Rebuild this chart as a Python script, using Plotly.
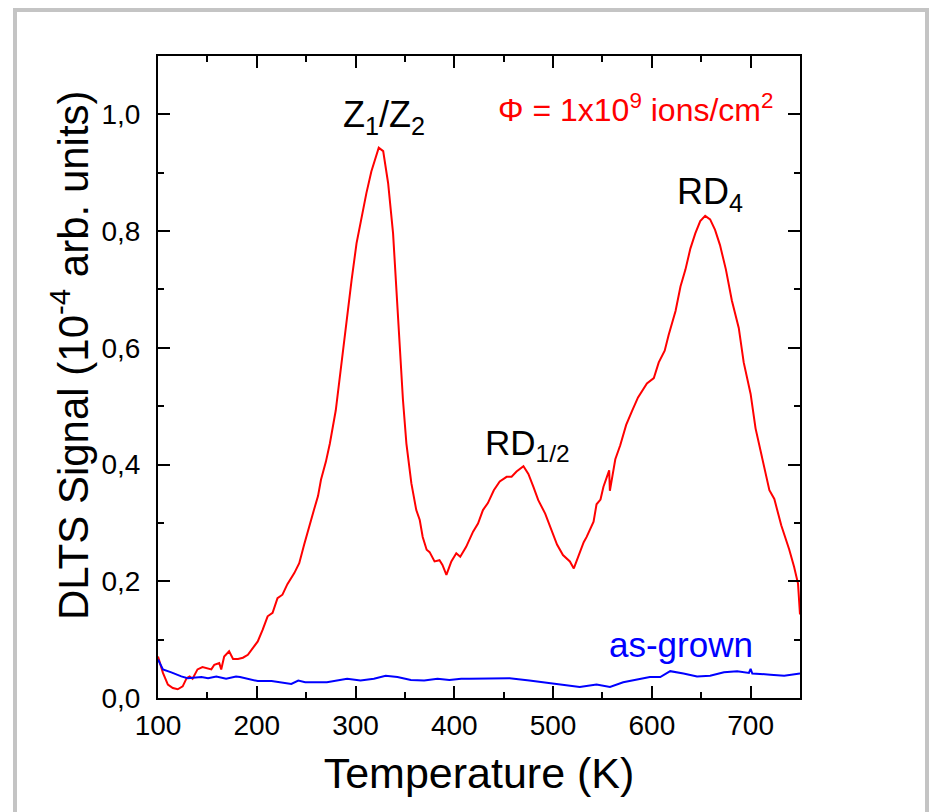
import plotly.graph_objects as go

# ---- data ----
T_irr = [100, 103, 105, 110, 115, 120, 125, 129, 132, 135, 140, 145, 150, 154, 157, 162, 164, 167, 172, 176,
         181, 186, 191, 196, 201, 206, 211, 216, 221, 226, 231, 238, 243, 248, 253, 258, 262, 265, 270, 274,
         280, 286, 291, 296, 301, 306, 311, 316, 319, 323.5, 328, 333, 338, 341, 345, 348, 351.5, 356.5, 361.5, 365,
         368, 372, 375, 380, 385, 388, 392, 397, 402, 406, 412, 419, 424, 429, 434, 440, 446, 453, 458, 463,
         470, 475, 480, 485, 492, 497, 504, 510, 517, 521, 527, 531, 534, 541, 544, 548, 551, 556.8, 557.5, 560,
         563, 568, 574, 580, 586, 595, 602, 607, 613, 617, 624, 629, 634, 639, 644, 649, 654, 659, 664, 669,
         675, 681, 688, 693, 700, 705, 712, 719, 724, 731, 739, 744, 748, 750]
S_irr = [0.071, 0.055, 0.043, 0.023, 0.017, 0.015, 0.020, 0.034, 0.037, 0.033, 0.049, 0.053, 0.051, 0.049, 0.057, 0.060, 0.049, 0.071, 0.080, 0.067,
         0.067, 0.069, 0.074, 0.086, 0.097, 0.117, 0.140, 0.146, 0.171, 0.177, 0.195, 0.214, 0.231, 0.263, 0.291, 0.323, 0.346, 0.374, 0.405, 0.436,
         0.493, 0.579, 0.653, 0.716, 0.779, 0.825, 0.865, 0.902, 0.919, 0.943, 0.937, 0.882, 0.796, 0.705, 0.596, 0.511, 0.436, 0.368, 0.322, 0.305,
         0.276, 0.254, 0.250, 0.234, 0.236, 0.228, 0.211, 0.234, 0.248, 0.242, 0.259, 0.285, 0.299, 0.322, 0.334, 0.356, 0.371, 0.379, 0.379, 0.388,
         0.397, 0.384, 0.362, 0.339, 0.316, 0.294, 0.263, 0.245, 0.234, 0.222, 0.248, 0.267, 0.276, 0.302, 0.332, 0.340, 0.362, 0.390, 0.355, 0.383,
         0.409, 0.433, 0.468, 0.492, 0.515, 0.539, 0.548, 0.575, 0.595, 0.622, 0.663, 0.705, 0.734, 0.770, 0.796, 0.817, 0.826, 0.820, 0.802, 0.776,
         0.734, 0.681, 0.634, 0.575, 0.521, 0.462, 0.409, 0.356, 0.341, 0.296, 0.255, 0.225, 0.196, 0.143]

T_ref = [100, 105, 113.5, 123.6, 130, 144, 150.7, 159, 169, 179, 183, 191, 201, 215, 225, 235, 242, 249, 258, 271,
         291.5, 305, 318.6, 330.5, 342.4, 356, 369.5, 383, 395, 407, 415, 435.6, 456, 476, 493, 510, 527, 544, 557.6, 571,
         584.7, 598, 608.5, 618.6, 632, 645.8, 659, 673, 686.4, 698.3, 700, 701.7, 720, 734, 750]
S_ref = [0.066, 0.049, 0.044, 0.037, 0.034, 0.036, 0.034, 0.037, 0.033, 0.037, 0.036, 0.033, 0.029, 0.029, 0.026, 0.024, 0.030, 0.027, 0.027, 0.027,
         0.033, 0.030, 0.033, 0.038, 0.036, 0.031, 0.030, 0.033, 0.031, 0.033, 0.033, 0.034, 0.034, 0.030, 0.026, 0.023, 0.019, 0.023, 0.019, 0.027,
         0.031, 0.036, 0.036, 0.046, 0.042, 0.037, 0.038, 0.044, 0.046, 0.043, 0.050, 0.042, 0.040, 0.038, 0.042]

x_ticks = [100, 200, 300, 400, 500, 600, 700]
y_ticks = [0.0, 0.2, 0.4, 0.6, 0.8, 1.0]

FONT = "Liberation Sans, Arial, sans-serif"

fig = go.Figure()
fig.add_trace(go.Scatter(x=T_irr, y=S_irr, mode="lines", line=dict(color="#ff0000", width=2), name="irradiated"))
fig.add_trace(go.Scatter(x=T_ref, y=S_ref, mode="lines", line=dict(color="#0000ff", width=2), name="as-grown"))

axis_common = dict(
    showline=True, linecolor="black", linewidth=2, mirror="allticks",
    ticks="inside", ticklen=12, tickwidth=2, tickcolor="black",
    showgrid=False, zeroline=False,
    tickfont=dict(family=FONT, size=28, color="black"),
)

fig.update_layout(
    width=930, height=812,
    margin=dict(l=158, r=130, t=56, b=114),
    paper_bgcolor="white", plot_bgcolor="white",
    separators=",.",
    showlegend=False,
    font=dict(family=FONT, color="black"),
    xaxis=dict(range=[100, 750], tickvals=x_ticks, ticklabelstandoff=1,
               minor=dict(dtick=50, tick0=100, ticks="inside", ticklen=6, tickwidth=2, tickcolor="black"),
               title=dict(text="Temperature (K)", font=dict(family=FONT, size=43), standoff=18),
               **axis_common),
    yaxis=dict(range=[0, 1.1], tickvals=y_ticks, tickformat=".1f", ticklabelstandoff=10,
               minor=dict(dtick=0.1, tick0=0, ticks="inside", ticklen=6, tickwidth=2, tickcolor="black"),
               **axis_common),
)

fig.add_annotation(xref="paper", yref="paper", x=(70 - 158) / 642, y=(698 - 355) / 642,
                   text="DLTS Signal (10<sup>-4</sup> arb. units)", textangle=-90, showarrow=False,
                   font=dict(family=FONT, size=42, color="black"), xanchor="center", yanchor="middle")

fig.add_annotation(x=329, y=0.995, text="Z<sub>1</sub>/Z<sub>2</sub>", showarrow=False,
                   font=dict(family=FONT, size=36, color="black"), xanchor="center", yanchor="middle")
fig.add_annotation(x=474, y=0.434, text="RD<sub>1/2</sub>", showarrow=False,
                   font=dict(family=FONT, size=35, color="black"), xanchor="center", yanchor="middle")
fig.add_annotation(x=659, y=0.863, text="RD<sub>4</sub>", showarrow=False,
                   font=dict(family=FONT, size=36, color="black"), xanchor="center", yanchor="middle")
fig.add_annotation(x=583, y=1.011, text="\u03a6 = 1x10<sup>9</sup> ions/cm<sup>2</sup>", showarrow=False,
                   font=dict(family=FONT, size=32, color="#ff0000"), xanchor="center", yanchor="middle")
fig.add_annotation(x=630, y=0.092, text="as-grown", showarrow=False,
                   font=dict(family=FONT, size=35, color="#0000ff"), xanchor="center", yanchor="middle")

# light gray frame around the figure
fig.add_shape(type="rect", xref="paper", yref="paper",
              x0=(15 - 158) / 642, x1=(927 - 158) / 642, y0=(698 - 830) / 642, y1=(698 - 10) / 642,
              line=dict(color="#c4c4c4", width=4), fillcolor="rgba(0,0,0,0)", layer="below")

fig.write_html("out.html")
